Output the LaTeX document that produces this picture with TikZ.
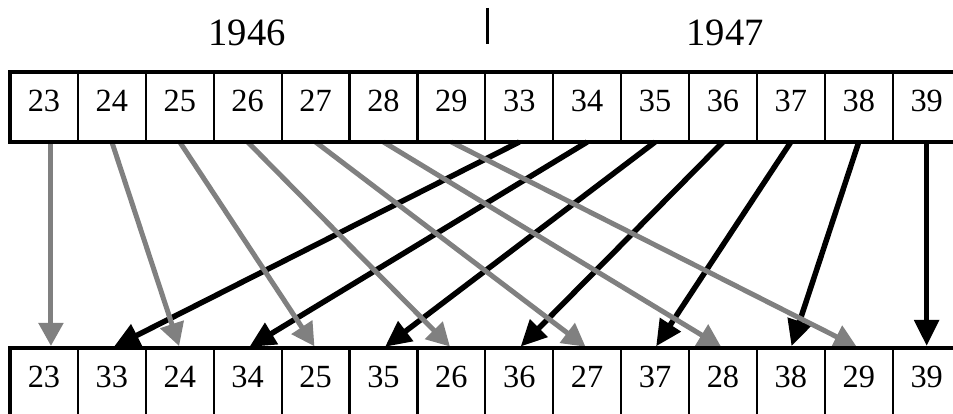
\documentclass[tikz,border=0pt]{standalone}
\usepackage{fontspec}
\setmainfont{Liberation Serif}
\usetikzlibrary{arrows.meta, positioning}
\definecolor{linegray}{HTML}{808080}
\definecolor{inkblack}{HTML}{000000}

\tikzset{
  cell/.style={draw=inkblack, line width=0.022cm, outer sep=0pt, inner sep=0pt,
    minimum width=0.679cm, minimum height=0.70cm,
    text height=0.22cm, text depth=0.12cm, font=\fontsize{9.2}{10}\selectfont},
  frame/.style={draw=inkblack, line width=0.045cm},
  oldarrow/.style={draw=linegray, line width=0.05cm, shorten >=0.02cm,
    -{Triangle[length=0.23cm, width=0.24cm]}},
  newarrow/.style={draw=inkblack, line width=0.055cm, shorten >=0.02cm,
    -{Triangle[length=0.26cm, width=0.24cm]}},
  year/.style={font=\fontsize{11}{13}\selectfont, inner sep=0pt}
}

\begin{document}
\begin{tikzpicture}
  \useasboundingbox (0,0) rectangle (9.53,4.14);
  \clip (0,0) rectangle (9.53,4.14);
  % Años
  \node[year] (y46) at (2.47,3.81) {1946};
  \node[year] (y47) at (7.25,3.81) {1947};
  \draw[line width=0.03cm] (4.87,4.06) -- (4.87,3.70);
  % Fila superior
  \foreach \lab [count=\i] in {23,24,25,26,27,28,29,33,34,35,36,37,38,39}
    \node[cell] (t\i) at ({0.10+(\i-0.5)*0.679},3.07) {\lab};
  % Fila inferior
  \foreach \lab [count=\i] in {23,33,24,34,25,35,26,36,27,37,28,38,29,39}
    \node[cell] (b\i) at ({0.10+(\i-0.5)*0.679},0.31) {\lab};
  % Flechas negras (1947)
  \foreach \i in {1,...,7} {
    \pgfmathtruncatemacro\s{7+\i}
    \pgfmathtruncatemacro\k{2*\i}
    \draw[newarrow] (t\s.south) -- (b\k.north);
  }
  % Flechas grises (1946)
  \draw[oldarrow] ([xshift=0.07cm]t1.south) -- ([xshift=0.07cm]b1.north);
  \foreach \i in {2,...,7} {
    \pgfmathtruncatemacro\k{2*\i-1}
    \draw[oldarrow] (t\i.south) -- (b\k.north);
  }
  % Marcos
  \draw[frame] (t1.north west) rectangle (t14.south east);
  \draw[frame] (b1.north west) rectangle (b14.south east);
\end{tikzpicture}
\end{document}
